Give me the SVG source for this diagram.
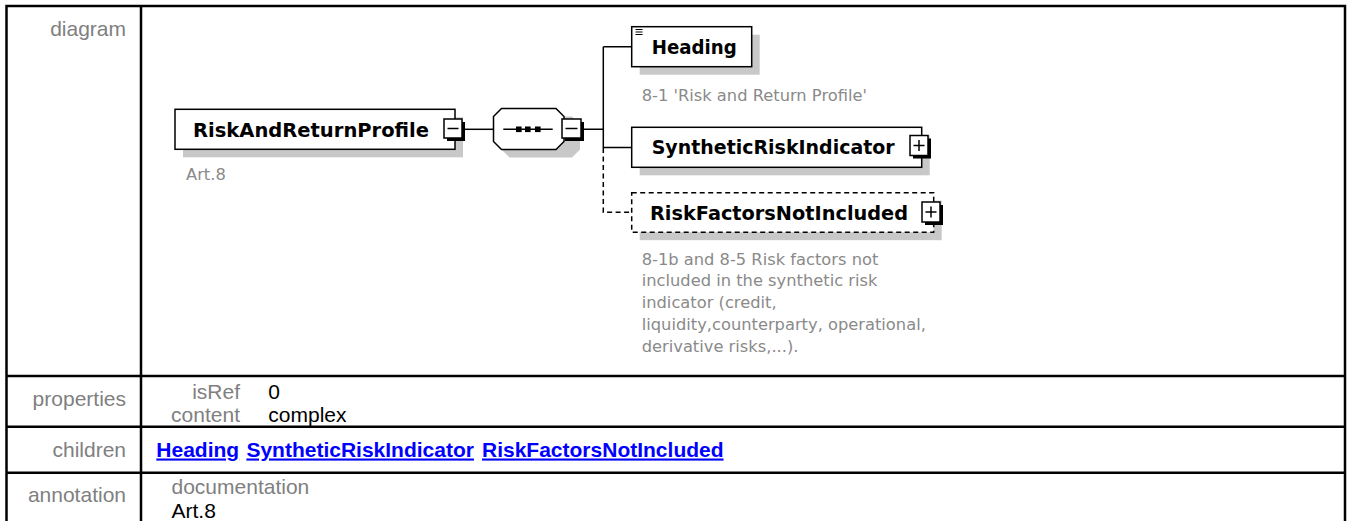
<svg xmlns="http://www.w3.org/2000/svg" width="1348" height="521" viewBox="0 0 1348 521">
<style>
.tl{font-family:"Liberation Sans",Arial,sans-serif;font-size:21px;fill:#808080}
.tv{font-family:"Liberation Sans",Arial,sans-serif;font-size:21px;fill:#000}
.lnk{font-family:"Liberation Sans",Arial,sans-serif;font-size:21px;font-weight:bold;fill:#0000ff;text-decoration:underline}
.nl{font-family:"DejaVu Sans",Verdana,sans-serif;font-size:19.5px;font-weight:bold;fill:#000}
.an{font-family:"DejaVu Sans",Verdana,sans-serif;font-size:16.3px;fill:#8a8a8a}
.grid{stroke:#000;stroke-width:2.5;fill:none}
.box{fill:#fff;stroke:#000;stroke-width:1.5}
.dbox{fill:#fff;stroke:#000;stroke-width:1.5;stroke-dasharray:5 3.5}
.sh{fill:#c8c8c8}
.con{stroke:#000;stroke-width:1.5;fill:none}
.dcon{stroke:#000;stroke-width:1.5;fill:none;stroke-dasharray:5 3.5}
.bt{fill:#fff;stroke:#000;stroke-width:1.5}
.btsh{fill:#000}
.sign{stroke:#000;stroke-width:1.5}
</style>

<g id="table">
  <path class="grid" d="M6.5 521 V6 H1345 V521"/>
  <path class="grid" d="M141 6 V521"/>
  <path class="grid" d="M6.5 376 H1345 M6.5 426.7 H1345 M6.5 472.7 H1345"/>
  <text class="tl" x="126" y="35.5" text-anchor="end">diagram</text>
  <text class="tl" x="126" y="406" text-anchor="end">properties</text>
  <text class="tl" x="240" y="398.5" text-anchor="end">isRef</text>
  <text class="tv" x="268.3" y="398.5">0</text>
  <text class="tl" x="240" y="422" text-anchor="end">content</text>
  <text class="tv" x="268.3" y="422">complex</text>
  <text class="tl" x="126" y="457" text-anchor="end">children</text>
  <text class="lnk" x="156.3" y="456.5">Heading</text>
  <text class="lnk" x="246.4" y="456.5">SyntheticRiskIndicator</text>
  <text class="lnk" x="482" y="456.5">RiskFactorsNotIncluded</text>
  <text class="tl" x="126" y="502" text-anchor="end">annotation</text>
  <text class="tl" x="171.5" y="493.5">documentation</text>
  <text class="tv" x="171.5" y="517.5">Art.8</text>
</g>

<g id="connectors">
  <path class="con" d="M465 129.3 H493.5"/>
  <path class="con" d="M584 129.3 H603.3 M603.3 46.7 V148 M603.3 46.7 H631.7 M603.3 147.5 H631.7"/>
  <path class="dcon" d="M603.3 148 V212.2 H631.7"/>
</g>

<g id="RiskAndReturnProfile">
  <rect class="sh" x="183" y="117.3" width="280" height="40"/>
  <rect class="box" x="175" y="109.3" width="280" height="40"/>
  <text class="nl" x="193" y="136.5" textLength="236" lengthAdjust="spacingAndGlyphs">RiskAndReturnProfile</text>
  <text class="an" x="186" y="179.5">Art.8</text>
  <rect class="btsh" x="447" y="122" width="18" height="19"/>
  <rect class="bt" x="444" y="119" width="18" height="19"/>
  <path class="sign" d="M447.5 128.5 H458.5"/>
</g>

<g id="sequence">
  <polygon class="sh" points="509.5,116.5 572,116.5 580,124.5 580,149.5 572,157.5 509.5,157.5 501.5,149.5 501.5,124.5"/>
  <polygon class="box" points="501.5,108.5 556,108.5 564,116.5 564,141.5 556,149.5 501.5,149.5 493.5,141.5 493.5,116.5"/>
  <path class="con" d="M503.3 129.3 H552.7"/>
  <rect x="516" y="126.5" width="5.6" height="5.6" fill="#000"/>
  <rect x="525" y="126.5" width="5.6" height="5.6" fill="#000"/>
  <rect x="535" y="126.5" width="5.6" height="5.6" fill="#000"/>
  <rect class="btsh" x="565" y="122" width="19" height="19"/>
  <rect class="bt" x="562" y="119" width="19" height="19"/>
  <path class="sign" d="M565.5 128.5 H577.5"/>
</g>

<g id="Heading">
  <rect class="sh" x="639.7" y="34.7" width="120" height="40"/>
  <rect class="box" x="631.7" y="26.7" width="120" height="40"/>
  <path d="M635.5 29.5 H642.5 M635.5 32 H642.5 M635.5 34.5 H642.5" stroke="#000" stroke-width="1.2"/>
  <text class="nl" x="651.7" y="54.3" textLength="85" lengthAdjust="spacingAndGlyphs">Heading</text>
  <text class="an" x="641.7" y="101">8-1 'Risk and Return Profile'</text>
</g>

<g id="SyntheticRiskIndicator">
  <rect class="sh" x="639.7" y="135.3" width="290" height="40"/>
  <rect class="box" x="631.7" y="127.3" width="290" height="40"/>
  <text class="nl" x="651.7" y="154" textLength="243" lengthAdjust="spacingAndGlyphs">SyntheticRiskIndicator</text>
  <rect class="btsh" x="913" y="138.5" width="18" height="20"/>
  <rect class="bt" x="910" y="135.5" width="18" height="20"/>
  <path class="sign" d="M913.5 145.5 H924.5 M919 140 V151"/>
</g>

<g id="RiskFactorsNotIncluded">
  <rect class="sh" x="639.7" y="200.7" width="302" height="39.5"/>
  <rect class="dbox" x="631.7" y="192.7" width="302" height="39.5"/>
  <text class="nl" x="650" y="220" textLength="258" lengthAdjust="spacingAndGlyphs">RiskFactorsNotIncluded</text>
  <rect class="btsh" x="925" y="205" width="18" height="20"/>
  <rect class="bt" x="922" y="202" width="18" height="20"/>
  <path class="sign" d="M925.5 212 H936.5 M931 206.5 V217.5"/>
  <text class="an" x="641.7" y="264.5">8-1b and 8-5 Risk factors not</text>
  <text class="an" x="641.7" y="286.3">included in the synthetic risk</text>
  <text class="an" x="641.7" y="308.1">indicator (credit,</text>
  <text class="an" x="641.7" y="329.9">liquidity,counterparty, operational,</text>
  <text class="an" x="641.7" y="351.7">derivative risks,...).</text>
</g>
</svg>
